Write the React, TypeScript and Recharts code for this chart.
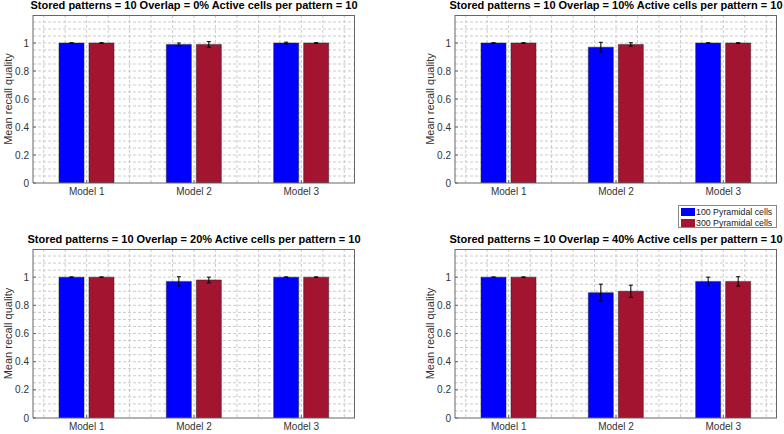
import { BarChart, Bar, XAxis, YAxis, CartesianGrid, ErrorBar } from 'recharts'

const models = ['Model 1', 'Model 2', 'Model 3']
const overlaps = ['0%', '10%', '20%', '40%']

// mean recall quality per panel (one row per overlap), per model
const mean100 = [
  [1.0, 0.99, 1.0],
  [1.0, 0.97, 1.0],
  [1.0, 0.97, 1.0],
  [1.0, 0.89, 0.97],
]
const mean300 = [
  [1.0, 0.99, 1.0],
  [1.0, 0.99, 1.0],
  [1.0, 0.98, 1.0],
  [1.0, 0.9, 0.97],
]
const err100 = [
  [0.002, 0.01, 0.006],
  [0.002, 0.035, 0.002],
  [0.002, 0.033, 0.002],
  [0.002, 0.06, 0.03],
]
const err300 = [
  [0.002, 0.02, 0.002],
  [0.002, 0.012, 0.002],
  [0.002, 0.02, 0.002],
  [0.002, 0.043, 0.033],
]

const yTicks = [0, 0.2, 0.4, 0.6, 0.8, 1]
const yMax = 1.2
const minorY = Array.from({ length: 23 }, (_, i) => +(0.05 * (i + 1)).toFixed(2))
const minorX = Array.from({ length: 15 }, (_, i) => +(0.6 + 0.2 * i).toFixed(1))

const BLUE = '#0000ff'
const RED = '#a2142f'
const AXIS = '#666'
const FONT = '"Liberation Sans", Arial, sans-serif'

// panel placement on the page: [left, top, width, height] and plot box [x0, y0, x1, y1]
const panels = [
  { div: [0, 0, 400, 200], plot: [33, 15, 355, 183] },
  { div: [400, 0, 384, 200], plot: [455, 15, 777, 183] },
  { div: [0, 234, 400, 200], plot: [33, 249, 355, 418] },
  { div: [400, 234, 384, 200], plot: [455, 249, 777, 418] },
]

function YLabel({ viewBox }: { viewBox?: { x: number; y: number; width: number; height: number } }) {
  if (!viewBox) return null
  const cx = viewBox.x + viewBox.width - 25
  const cy = viewBox.y + viewBox.height / 2
  return (
    <text x={cx} y={cy} transform={`rotate(-90 ${cx} ${cy})`} textAnchor="middle" dominantBaseline="central" fontSize={11} fill="#333" fontFamily={FONT}>
      Mean recall quality
    </text>
  )
}

// minor grid, as in MATLAB's "grid minor": every 0.05 in y, every 0.2 in x (x from 0.5 to 3.5)
const hGrid = ({ offset }: any) => minorY.map((v) => offset.top + offset.height * (1 - v / yMax))
const vGrid = ({ offset }: any) => minorX.map((v) => offset.left + (offset.width * (v - 0.5)) / 3)
// box edges (top and right side of the axes frame)
const hEdge = ({ offset }: any) => [offset.top + 0.5]
const vEdge = ({ offset }: any) => [offset.left + offset.width - 0.5]

function Panel({ idx }: { idx: number }) {
  const { div, plot } = panels[idx]
  const [left, top, width, height] = div
  const [x0, y0, x1, y1] = plot
  const data = models.map((m, i) => ({
    model: m,
    p100: mean100[idx][i],
    p300: mean300[idx][i],
    e100: err100[idx][i],
    e300: err300[idx][i],
  }))
  const xAxisH = 14
  const margin = { top: y0 - top, left: 0, right: left + width - x1, bottom: top + height - y1 - xAxisH }
  const tickFont = { fill: '#333', fontSize: 10, fontFamily: FONT }
  return (
    <div style={{ position: 'absolute', left, top, width, height }}>
      <div
        style={{
          position: 'absolute',
          left: x0 - left - 60,
          width: x1 - x0 + 120,
          top: y0 - top - 15,
          lineHeight: '11px',
          textAlign: 'center',
          fontFamily: FONT,
          fontWeight: 'bold',
          fontSize: 11,
          color: '#000',
          whiteSpace: 'nowrap',
        }}
      >
        Stored patterns = 10 Overlap = {overlaps[idx]} Active cells per pattern = 10
      </div>
      <BarChart width={width} height={height} data={data} margin={margin} barSize={25} barGap={5}>
        <CartesianGrid stroke="#cbcbcb" strokeDasharray="3 2" horizontalCoordinatesGenerator={hGrid} verticalCoordinatesGenerator={vGrid} />
        <CartesianGrid stroke={AXIS} horizontalCoordinatesGenerator={hEdge} verticalCoordinatesGenerator={vEdge} />
        <XAxis
          dataKey="model"
          height={xAxisH}
          axisLine={{ stroke: AXIS }}
          tickLine={{ stroke: AXIS }}
          tickSize={-3}
          tickMargin={8}
          tick={tickFont}
        />
        <XAxis xAxisId="top" dataKey="model" orientation="top" height={0} axisLine={{ stroke: AXIS }} tickLine={{ stroke: AXIS }} tickSize={-3} tick={false} />
        <YAxis
          type="number"
          domain={[0, yMax]}
          ticks={yTicks}
          width={x0 - left}
          axisLine={{ stroke: AXIS }}
          tickLine={{ stroke: AXIS }}
          tickSize={-3}
          tickMargin={7}
          allowDataOverflow
          tick={tickFont}
          label={<YLabel />}
        />
        <YAxis yAxisId="right" orientation="right" type="number" domain={[0, yMax]} ticks={yTicks} width={0} axisLine={{ stroke: AXIS }} tickLine={{ stroke: AXIS }} tickSize={-3} tick={false} />
        <Bar dataKey="p100" fill={BLUE} stroke="#222" strokeWidth={0.5} isAnimationActive={false}>
          <ErrorBar dataKey="e100" width={2} stroke="#000" strokeWidth={1} direction="y" />
        </Bar>
        <Bar dataKey="p300" fill={RED} stroke="#222" strokeWidth={0.5} isAnimationActive={false}>
          <ErrorBar dataKey="e300" width={2} stroke="#000" strokeWidth={1} direction="y" />
        </Bar>
      </BarChart>
    </div>
  )
}

function Legend() {
  const items = [
    { label: '100 Pyramidal cells', color: BLUE },
    { label: '300 Pyramidal cells', color: RED },
  ]
  return (
    <div
      style={{
        position: 'absolute',
        left: 678,
        top: 205,
        width: 97,
        height: 21,
        border: '1px solid #888',
        background: '#fff',
        fontFamily: FONT,
        fontSize: 8.8,
        color: '#222',
      }}
    >
      {items.map((it) => (
        <div key={it.label} style={{ display: 'flex', alignItems: 'center', height: 10, marginLeft: 2, marginTop: 1, whiteSpace: 'nowrap' }}>
          <span style={{ display: 'inline-block', width: 14, height: 7.5, background: it.color, marginRight: 1 }} />
          {it.label}
        </div>
      ))}
    </div>
  )
}

export default function App() {
  return (
    <div style={{ position: 'absolute', left: 0, top: 0, width: 784, height: 434, background: '#fff', overflow: 'hidden' }}>
      {panels.map((_, i) => (
        <Panel key={i} idx={i} />
      ))}
      <Legend />
    </div>
  )
}
